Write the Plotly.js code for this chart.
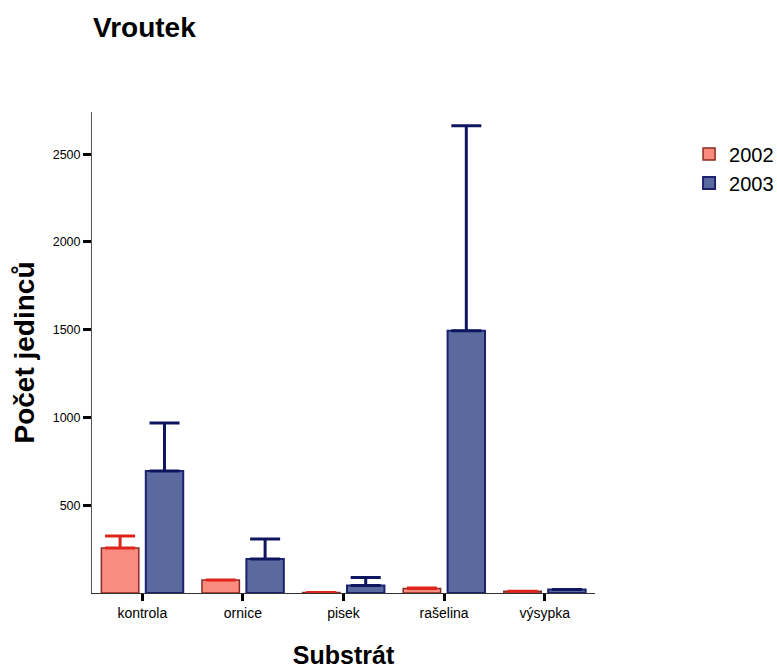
<!DOCTYPE html>
<html>
<head>
<meta charset="utf-8">
<script src="https://cdn.plot.ly/plotly-3.0.1.min.js"></script>
<style>html,body{margin:0;padding:0;background:#fff;}#chart{width:777px;height:669px;}</style>
</head>
<body>
<div id="chart"></div>
<script>
const categories = ["kontrola", "ornice", "pisek", "rašelina", "výsypka"];
const values2002 = [256, 74, 3, 25, 10];
const err2002 = [69, 0, 0, 4, 0];
const values2003 = [695, 194, 43, 1494, 20];
const err2003 = [274, 114, 45, 1168, 0];
const yTicks = [500, 1000, 1500, 2000, 2500];

const zeros = categories.map(() => 0);

const traces = [
  {
    type: 'bar', name: '2002', x: categories, y: values2002,
    marker: {color: '#f98b7f', line: {color: '#8a2a22', width: 1.5}},
    error_y: {type: 'data', symmetric: false, array: err2002, arrayminus: zeros,
              color: '#e0241c', thickness: 3, width: 15, visible: true}
  },
  {
    type: 'bar', name: '2003', x: categories, y: values2003,
    marker: {color: '#5a6a9e', line: {color: '#1c2270', width: 2}},
    error_y: {type: 'data', symmetric: false, array: err2003, arrayminus: zeros,
              color: '#0e1660', thickness: 3, width: 15, visible: true}
  }
];

const layout = {
  width: 777, height: 669,
  paper_bgcolor: '#fff', plot_bgcolor: '#fff',
  font: {family: 'Liberation Sans, Arial, sans-serif', color: '#000'},
  margin: {l: 92, r: 182, t: 112, b: 76, autoexpand: false},
  barmode: 'group', bargap: 0.117, bargroupgap: 0.157,
  showlegend: true,
  legend: {x: 1.187, y: 0.953, xanchor: 'left', yanchor: 'top',
           font: {size: 20, color: '#000'}, tracegroupgap: 0, itemwidth: 30},
  title: {text: '<b>Vroutek</b>', x: 93/777, xanchor: 'left', y: 1 - 27/669, yanchor: 'middle',
          font: {size: 28, color: '#000'}},
  xaxis: {
    type: 'category', range: [-0.5, 4.5],
    showline: true, linecolor: '#333', linewidth: 1,
    ticks: 'outside', ticklen: 7, tickwidth: 3, tickcolor: '#000',
    tickfont: {size: 14, color: '#000'},
    showgrid: false, zeroline: false,
    title: {text: '<b>Substrát</b>', font: {size: 25, color: '#000'}, standoff: 27}
  },
  yaxis: {
    range: [0, 2740], tickvals: yTicks, ticktext: yTicks.map(String),
    showline: true, linecolor: '#555', linewidth: 1,
    ticks: 'outside', ticklen: 8, tickwidth: 3, tickcolor: '#000',
    tickfont: {size: 12.5, color: '#000'},
    showgrid: false, zeroline: false,
    title: {text: '<b>Počet jedinců</b>', font: {size: 28, color: '#000'}, standoff: 9}
  }
};

Plotly.newPlot('chart', traces, layout, {displayModeBar: false, staticPlot: true});
</script>
</body>
</html>
